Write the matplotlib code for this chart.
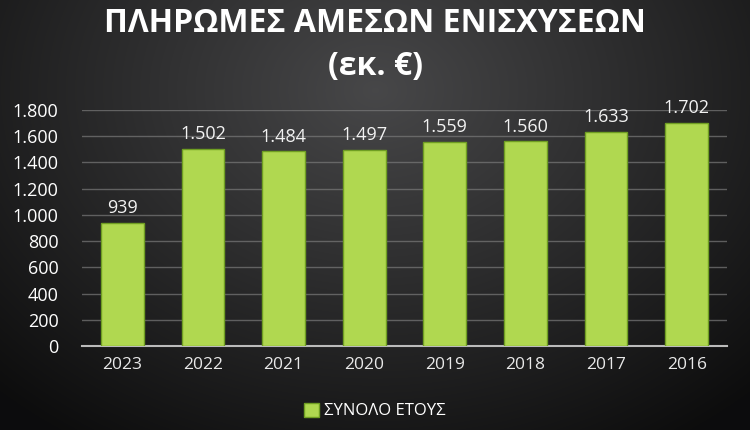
import matplotlib
matplotlib.use("Agg")
import matplotlib.pyplot as plt
from matplotlib.patches import Patch
import numpy as np

plt.rcParams['font.family'] = ['Open Sans', 'DejaVu Sans']

years = ['2023', '2022', '2021', '2020', '2019', '2018', '2017', '2016']
payments = [939, 1502, 1484, 1497, 1559, 1560, 1633, 1702]
yticks = list(range(0, 2000, 200))

def gr_fmt(v):
    # greek thousands separator
    return f"{int(v):,}".replace(",", ".")

fig = plt.figure(figsize=(7.5, 4.3), dpi=100)

# radial dark background
bg = fig.add_axes([0, 0, 1, 1])
yy, xx = np.mgrid[0:430, 0:750]
r = np.sqrt(((xx - 375) / 520.0) ** 2 + ((yy - 90) / 400.0) ** 2)
shade = np.clip(0.28 - 0.22 * r, 0.05, 0.3)
bg.imshow(np.dstack([shade, shade, shade * 1.02]).clip(0, 1), aspect='auto',
          extent=[0, 1, 0, 1], origin='upper')
bg.axis('off')

ax = fig.add_axes([82 / 750, 1 - 346 / 430, 645 / 750, 236 / 430])
ax.set_facecolor('none')
x = np.arange(len(years))
ax.bar(x, payments, width=0.53, color='#b0d850', edgecolor='#6f9e22',
       linewidth=1.0, zorder=3)
for xi, v in zip(x, payments):
    ax.text(xi, v + 45, gr_fmt(v), ha='center', va='bottom', color='#f2f2f2',
            fontsize=13)

ax.set_xlim(-0.5, len(years) - 0.5)
ax.set_ylim(0, 1800)
ax.set_yticks(yticks)
ax.set_yticklabels([gr_fmt(t) for t in yticks], color='white', fontsize=13)
ax.set_xticks(x)
ax.set_xticklabels(years, color='#e8e8e8', fontsize=12.5)
ax.tick_params(length=0, pad=8)
ax.tick_params(axis='y', pad=17)
ax.grid(axis='y', color='#7a7a7a', linewidth=1.0, alpha=0.7, zorder=0)
for s in ['top', 'right', 'left']:
    ax.spines[s].set_visible(False)
ax.spines['bottom'].set_color('#bbbbbb')
ax.spines['bottom'].set_linewidth(1.5)

fig.text(0.5, 1 - 24 / 430, 'ΠΛΗΡΩΜΕΣ ΑΜΕΣΩΝ ΕΝΙΣΧΥΣΕΩΝ', ha='center', va='center',
         color='white', fontsize=23, fontweight='bold')
fig.text(0.5, 1 - 67 / 430, '(εκ. €)', ha='center', va='center',
         color='white', fontsize=23, fontweight='bold')

handle = Patch(facecolor='#b0d850', edgecolor='#6f9e22')
fig.legend([handle], ['ΣΥΝΟΛΟ ΕΤΟΥΣ'], loc='center', bbox_to_anchor=(0.5, 1 - 411 / 430),
           frameon=False, fontsize=12, labelcolor='white', handlelength=0.9,
           handleheight=0.9, handletextpad=0.3)

fig.savefig('out.png', dpi=100)
